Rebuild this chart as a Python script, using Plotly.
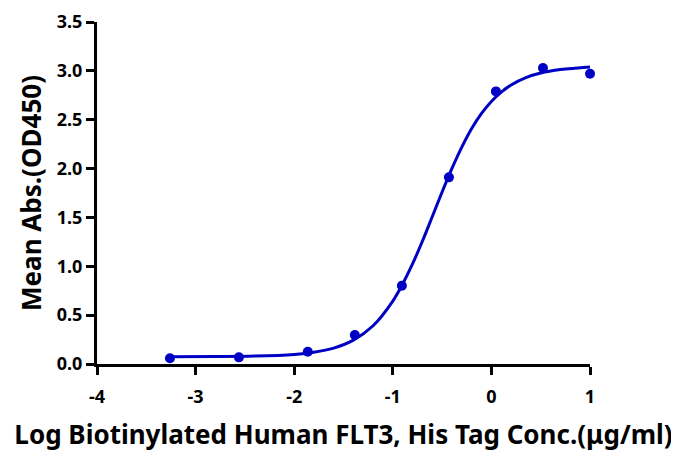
import plotly.graph_objects as go

# measured points (log concentration, mean OD450)
log_conc = [-3.260, -2.561, -1.862, -1.385, -0.908, -0.431, 0.046, 0.523, 1.000]
mean_abs = [0.058, 0.068, 0.126, 0.297, 0.80, 1.91, 2.79, 3.03, 2.97]

# fitted curve
curve_x = [-3.26, -2.8, -2.4, -2.0, -1.8, -1.6, -1.4, -1.2, -1.0, -0.9, -0.8, -0.7, -0.6,
           -0.5, -0.4, -0.3, -0.2, -0.1, 0.0, 0.1, 0.2, 0.35, 0.5, 0.7, 1.0]
curve_y = [0.075, 0.076, 0.081, 0.098, 0.120, 0.162, 0.244, 0.391, 0.644, 0.819, 1.024, 1.256, 1.507,
           1.760, 2.002, 2.220, 2.410, 2.565, 2.687, 2.782, 2.856, 2.931, 2.978, 3.013, 3.040]

x_ticks = [-4, -3, -2, -1, 0, 1]
y_ticks = [0.0, 0.5, 1.0, 1.5, 2.0, 2.5, 3.0, 3.5]
x_tick_text = [f"<b>{t}</b>" for t in x_ticks]
y_tick_text = [f"<b>{v:.1f}</b>" for v in y_ticks]

blue = "#0000C4"
font_family = "Noto Sans"

fig = go.Figure()
fig.add_trace(go.Scatter(x=curve_x, y=curve_y, mode="lines",
                         line=dict(color=blue, width=3, shape="spline"),
                         hoverinfo="skip", showlegend=False, cliponaxis=False))
fig.add_trace(go.Scatter(x=log_conc, y=mean_abs, mode="markers",
                         marker=dict(color=blue, size=10), showlegend=False, cliponaxis=False))

axis_common = dict(showline=True, linecolor="black", linewidth=3, ticks="outside",
                   ticklen=8, tickwidth=3, tickcolor="black", showgrid=False, zeroline=False,
                   automargin=False,
                   tickfont=dict(family=font_family, size=18, color="black"))

fig.update_layout(
    width=679, height=452,
    margin=dict(l=89, r=97, t=14, b=96),
    paper_bgcolor="white", plot_bgcolor="white",
    xaxis=dict(range=[-4, 1], tickvals=x_ticks, ticktext=x_tick_text, ticklabelstandoff=6,
               title=dict(text="<b>Log Biotinylated Human FLT3, His Tag Conc.(μg/ml)</b>",
                          font=dict(family=font_family, size=26, color="black"),
                          standoff=20),
               **axis_common),
    yaxis=dict(range=[0, 3.5], tickvals=y_ticks, ticktext=y_tick_text,
               title=dict(text="<b>Mean Abs.(OD450)</b>",
                          font=dict(family=font_family, size=26, color="black"),
                          standoff=8),
               **axis_common),
)

fig.write_html("out.html")
